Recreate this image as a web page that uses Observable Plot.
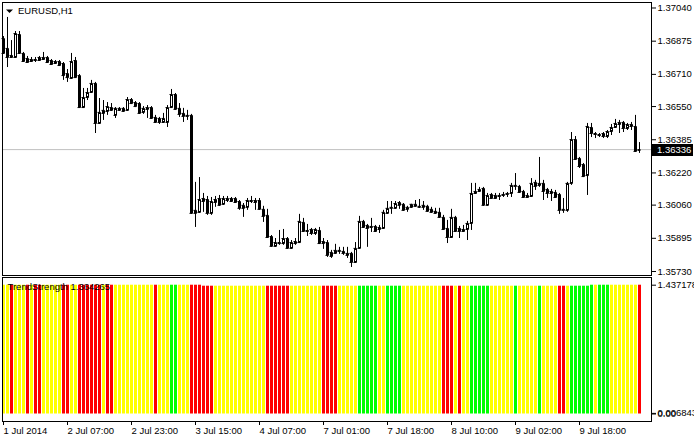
<!DOCTYPE html>
<html><head><meta charset="utf-8">
<script src="https://cdn.jsdelivr.net/npm/d3@7"></script>
<script src="https://cdn.jsdelivr.net/npm/@observablehq/plot@0.6"></script>
<style>
html,body{margin:0;padding:0;background:#fff;}
#chart{width:694px;height:439px;position:relative;overflow:hidden;background:#fff;}
#chart svg{display:block;}
</style></head><body><div id="chart"></div>
<script>
const symbol = "EURUSD,H1";
const indicatorName = "TrendStrength 1.364265";

const open = [
1.36888,1.36839,1.36804,1.36794,1.36908,1.36814,1.36789,1.36774,1.36784,1.36779,
1.36794,1.36794,1.36779,1.36774,1.36774,1.36764,1.36714,1.36690,1.36779,1.36704,
1.36545,1.36595,1.36620,1.36665,1.36466,1.36516,1.36526,1.36545,1.36506,1.36541,
1.36541,1.36531,1.36585,1.36570,1.36565,1.36521,1.36545,1.36545,1.36496,1.36491,
1.36471,1.36471,1.36545,1.36610,1.36541,1.36516,1.36506,1.36506,1.36019,1.36024,
1.36093,1.36088,1.36019,1.36073,1.36093,1.36064,1.36093,1.36078,1.36093,1.36078,
1.36044,1.36049,1.36083,1.36083,1.36083,1.36039,1.36009,1.35904,1.35855,1.35874,
1.35869,1.35894,1.35845,1.35869,1.35874,1.35974,1.35929,1.35939,1.35919,1.35934,
1.35879,1.35874,1.35825,1.35820,1.35835,1.35830,1.35820,1.35820,1.35775,1.35845,
1.35979,1.35944,1.35954,1.35954,1.35949,1.35944,1.36019,1.36044,1.36044,1.36073,
1.36064,1.36039,1.36049,1.36064,1.36054,1.36059,1.36054,1.36039,1.36029,1.36024,
1.35999,1.35944,1.35899,1.35999,1.35944,1.35929,1.35939,1.35969,1.36118,1.36138,
1.36143,1.36059,1.36113,1.36093,1.36108,1.36108,1.36113,1.36118,1.36158,1.36153,
1.36128,1.36108,1.36103,1.36173,1.36158,1.36168,1.36138,1.36128,1.36123,1.36113,
1.36034,1.36034,1.36168,1.36386,1.36292,1.36262,1.36207,1.36446,1.36416,1.36411,
1.36416,1.36401,1.36426,1.36446,1.36461,1.36471,1.36441,1.36461,1.36451,1.36332];

const high = [
1.36898,1.36993,1.36878,1.36923,1.36923,1.36819,1.36799,1.36794,1.36794,1.36799,
1.36819,1.36799,1.36784,1.36779,1.36779,1.36769,1.36734,1.36814,1.36794,1.36709,
1.36640,1.36640,1.36680,1.36670,1.36590,1.36580,1.36570,1.36565,1.36545,1.36545,
1.36545,1.36595,1.36590,1.36575,1.36570,1.36550,1.36555,1.36550,1.36506,1.36496,
1.36516,1.36555,1.36635,1.36615,1.36565,1.36541,1.36531,1.36511,1.36173,1.36197,
1.36118,1.36103,1.36098,1.36103,1.36108,1.36103,1.36103,1.36098,1.36098,1.36083,
1.36068,1.36093,1.36103,1.36093,1.36093,1.36054,1.36039,1.35909,1.35894,1.35934,
1.35939,1.35899,1.35884,1.35894,1.36014,1.35994,1.35964,1.35944,1.35944,1.35949,
1.35894,1.35884,1.35835,1.35865,1.35850,1.35850,1.35850,1.35825,1.35874,1.36004,
1.35984,1.35964,1.35994,1.35959,1.35959,1.36034,1.36078,1.36078,1.36078,1.36078,
1.36068,1.36054,1.36064,1.36083,1.36088,1.36078,1.36059,1.36049,1.36044,1.36044,
1.36009,1.35984,1.36039,1.36004,1.35954,1.35959,1.35979,1.36168,1.36168,1.36148,
1.36148,1.36118,1.36118,1.36118,1.36118,1.36123,1.36123,1.36168,1.36217,1.36158,
1.36133,1.36118,1.36192,1.36183,1.36297,1.36183,1.36143,1.36138,1.36133,1.36118,
1.36093,1.36173,1.36421,1.36401,1.36297,1.36267,1.36466,1.36466,1.36421,1.36416,
1.36421,1.36431,1.36461,1.36486,1.36481,1.36476,1.36466,1.36471,1.36506,1.36371];

const low = [
1.36809,1.36744,1.36789,1.36789,1.36809,1.36769,1.36764,1.36769,1.36769,1.36774,
1.36779,1.36764,1.36754,1.36759,1.36749,1.36680,1.36670,1.36685,1.36690,1.36541,
1.36541,1.36580,1.36615,1.36416,1.36461,1.36481,1.36506,1.36526,1.36491,1.36526,
1.36521,1.36526,1.36560,1.36545,1.36511,1.36511,1.36491,1.36486,1.36466,1.36461,
1.36466,1.36446,1.36541,1.36531,1.36496,1.36471,1.36481,1.36014,1.35949,1.36019,
1.36024,1.36009,1.36009,1.36049,1.36054,1.36059,1.36073,1.36073,1.36068,1.36034,
1.35999,1.36034,1.36068,1.36034,1.36034,1.35974,1.35894,1.35850,1.35850,1.35860,
1.35860,1.35840,1.35840,1.35860,1.35869,1.35924,1.35904,1.35909,1.35909,1.35864,
1.35840,1.35800,1.35795,1.35815,1.35815,1.35810,1.35795,1.35750,1.35770,1.35840,
1.35944,1.35850,1.35924,1.35924,1.35919,1.35939,1.36014,1.36014,1.36039,1.36039,
1.36029,1.36024,1.36044,1.36049,1.36044,1.36034,1.36024,1.36019,1.36014,1.35994,
1.35934,1.35869,1.35894,1.35924,1.35894,1.35924,1.35884,1.35934,1.36113,1.36123,
1.36054,1.36054,1.36093,1.36088,1.36083,1.36098,1.36098,1.36098,1.36133,1.36118,
1.36093,1.36093,1.36098,1.36133,1.36148,1.36083,1.36093,1.36078,1.36093,1.36014,
1.36019,1.36024,1.36158,1.36282,1.36242,1.36197,1.36108,1.36396,1.36391,1.36396,
1.36391,1.36391,1.36406,1.36441,1.36416,1.36421,1.36431,1.36431,1.36322,1.36317];

const close = [
1.36814,1.36794,1.36794,1.36913,1.36814,1.36774,1.36769,1.36784,1.36779,1.36794,
1.36784,1.36769,1.36759,1.36764,1.36754,1.36704,1.36694,1.36774,1.36694,1.36545,
1.36595,1.36620,1.36665,1.36466,1.36521,1.36531,1.36550,1.36531,1.36541,1.36531,
1.36526,1.36585,1.36565,1.36550,1.36516,1.36541,1.36536,1.36491,1.36471,1.36471,
1.36491,1.36545,1.36610,1.36536,1.36511,1.36501,1.36501,1.36019,1.36034,1.36088,
1.36078,1.36019,1.36078,1.36088,1.36059,1.36093,1.36083,1.36093,1.36073,1.36044,
1.36059,1.36083,1.36078,1.36073,1.36039,1.36004,1.35899,1.35855,1.35874,1.35869,
1.35894,1.35845,1.35874,1.35879,1.35979,1.35929,1.35934,1.35919,1.35939,1.35869,
1.35869,1.35810,1.35805,1.35835,1.35830,1.35820,1.35810,1.35775,1.35845,1.35979,
1.35949,1.35959,1.35949,1.35929,1.35939,1.36024,1.36044,1.36049,1.36068,1.36059,
1.36034,1.36049,1.36064,1.36054,1.36049,1.36049,1.36029,1.36024,1.36019,1.35999,
1.35939,1.35899,1.35999,1.35929,1.35929,1.35939,1.35969,1.36118,1.36128,1.36128,
1.36059,1.36108,1.36093,1.36108,1.36103,1.36113,1.36118,1.36158,1.36153,1.36123,
1.36098,1.36098,1.36168,1.36153,1.36168,1.36128,1.36118,1.36118,1.36098,1.36034,
1.36039,1.36168,1.36386,1.36287,1.36252,1.36202,1.36451,1.36416,1.36411,1.36406,
1.36401,1.36426,1.36446,1.36466,1.36471,1.36441,1.36461,1.36451,1.36327,1.36336];

// TrendStrength histogram: state per bar (Y = neutral, R = down, G = up) and bar height
const trendState = [
"Y","Y","R","Y","Y","Y","R","Y","R","R",
"Y","Y","Y","Y","Y","R","R","Y","Y","R",
"R","R","R","R","R","Y","R","R","Y","Y",
"Y","Y","Y","Y","Y","Y","Y","Y","R","Y",
"Y","Y","G","G","Y","Y","Y","R","R","R",
"R","R","R","Y","Y","Y","Y","Y","Y","Y",
"Y","Y","Y","Y","Y","Y","R","R","R","R",
"R","R","Y","Y","Y","Y","Y","Y","Y","Y",
"R","R","R","R","Y","Y","Y","Y","Y","G",
"G","G","G","G","Y","Y","G","G","G","G",
"Y","Y","Y","Y","Y","Y","Y","Y","Y","Y",
"R","R","R","Y","R","Y","Y","G","G","G",
"G","G","Y","Y","Y","Y","Y","Y","G","Y",
"Y","Y","Y","Y","G","Y","Y","Y","Y","R",
"R","Y","G","G","G","G","G","G","Y","G",
"G","G","Y","Y","Y","Y","Y","Y","Y","R"];

const trendValue = [
1.437,1.437,1.437,1.437,1.437,1.437,1.437,1.437,1.437,1.437,
1.437,1.437,1.437,1.437,1.437,1.437,1.437,1.437,1.437,1.437,
1.437,1.437,1.437,1.437,1.437,1.437,1.437,1.437,1.437,1.437,
1.437,1.437,1.437,1.437,1.437,1.437,1.437,1.437,1.437,1.437,
1.437,1.437,1.437,1.437,1.437,1.437,1.437,1.437,1.437,1.437,
1.426,1.426,1.426,1.426,1.426,1.426,1.426,1.426,1.426,1.426,
1.426,1.426,1.426,1.426,1.426,1.426,1.426,1.426,1.426,1.426,
1.426,1.426,1.426,1.426,1.426,1.426,1.426,1.426,1.426,1.426,
1.426,1.426,1.426,1.426,1.426,1.426,1.426,1.426,1.426,1.426,
1.426,1.426,1.426,1.426,1.426,1.426,1.426,1.426,1.426,1.426,
1.426,1.426,1.426,1.426,1.426,1.426,1.426,1.426,1.426,1.426,
1.426,1.426,1.426,1.426,1.426,1.426,1.426,1.426,1.426,1.426,
1.426,1.426,1.426,1.426,1.426,1.426,1.426,1.426,1.426,1.426,
1.426,1.426,1.426,1.426,1.426,1.426,1.426,1.426,1.426,1.426,
1.426,1.426,1.426,1.426,1.426,1.426,1.426,1.437,1.437,1.437,
1.437,1.437,1.437,1.437,1.437,1.437,1.437,1.437,1.437,1.437];

const stateColor = {Y: "#ffff00", R: "#ff0000", G: "#00ff00"};

const priceTicks = [1.37040, 1.36875, 1.36710, 1.36550, 1.36385, 1.36220, 1.36060, 1.35895, 1.35730];
const timeTickIndex = [0, 16, 32, 48, 64, 80, 96, 112, 128, 144];
const timeTickLabels = ["1 Jul 2014", "2 Jul 07:00", "2 Jul 23:00", "3 Jul 15:00", "4 Jul 07:00",
  "7 Jul 01:00", "7 Jul 18:00", "8 Jul 10:00", "9 Jul 02:00", "9 Jul 18:00"];
const indTicks = [1.437178, 0.0068437, 0];
const indTickLabels = ["1.437178", "0.0068437", "0.00"];

const font = "'Liberation Sans', Arial, sans-serif";
const style = {fontFamily: font, fontSize: "9.5px", background: "#fff", color: "#000", overflow: "visible"};
const xDomain = [-0.25, 162];
const half = 0.375;

const candles = close.map((c, i) => ({i, open: open[i], high: high[i], low: low[i], close: c}));
const bars = trendState.map((s, i) => ({i, s, v: trendValue[i]}));
const last = close[close.length - 1];

const main = Plot.plot({
  width: 694, height: 277,
  marginLeft: 2, marginRight: 43, marginTop: 2, marginBottom: 2,
  style,
  x: {type: "linear", domain: xDomain, axis: null, label: null},
  y: {domain: [1.357101, 1.370673], label: null},
  color: {type: "identity"},
  marks: [
    Plot.ruleY([last], {stroke: "#c0c0c0"}),
    Plot.ruleX(candles, {x: "i", y1: "low", y2: "high", stroke: "#000"}),
    Plot.rect(candles, {x1: d => d.i - half, x2: d => d.i + half, y1: "open", y2: "close",
      fill: d => d.close > d.open ? "#ffffff" : "#000000", stroke: "#000", inset: 0.5, dx: 0.5, dy: 0.5}),
    Plot.ruleY(candles, {y: "open", x1: d => d.i - half, x2: d => d.i + half, stroke: "#000"}),
    Plot.ruleY(candles, {y: "close", x1: d => d.i - half, x2: d => d.i + half, stroke: "#000"}),
    Plot.frame({stroke: "#000"}),
    Plot.axisY({anchor: "right", ticks: priceTicks, tickFormat: d => d.toFixed(5),
      tickSize: 4, tickPadding: 2, label: null}),
    Plot.text([symbol], {frameAnchor: "top-left", dx: 15.5, dy: 5, fill: "#000"})
  ]
});

{
  const svg = d3.select(main);
  const yp = main.scale("y").apply(last) + 0.5;
  svg.append("rect").attr("x", 652).attr("y", Math.round(yp) - 6).attr("width", 41).attr("height", 12).attr("fill", "#000");
  svg.append("text").attr("x", 657).attr("y", Math.round(yp)).attr("dy", "0.35em")
    .attr("fill", "#fff").attr("text-anchor", "start").text(last.toFixed(5));
  svg.append("path").attr("d", "M6,9.5H13L9.5,13Z").attr("fill", "#000");
}

const sub = Plot.plot({
  width: 694, height: 162,
  marginLeft: 2, marginRight: 43, marginTop: 0, marginBottom: 18,
  style,
  x: {type: "linear", domain: xDomain, label: null},
  y: {domain: [-0.0837, 1.5231], label: null},
  color: {type: "identity"},
  marks: [
    Plot.rect(bars, {x1: d => d.i - half, x2: d => d.i + half, y1: 0, y2: "v",
      fill: d => stateColor[d.s], dx: 0.5}),
    Plot.frame({stroke: "#000"}),
    Plot.axisY({anchor: "right", ticks: indTicks, tickFormat: d => indTickLabels[indTicks.indexOf(d)],
      tickSize: 4, tickPadding: 2, label: null}),
    Plot.axisX({anchor: "bottom", ticks: timeTickIndex, tickFormat: d => timeTickLabels[timeTickIndex.indexOf(d)],
      tickSize: 4, tickPadding: 1.5, textAnchor: "start", label: null}),
    Plot.text([indicatorName], {frameAnchor: "top-left", dx: 5, dy: 5.5, fill: "#000"})
  ]
});

const root = document.getElementById("chart");
root.appendChild(main);
root.appendChild(sub);
</script>
</body></html>
